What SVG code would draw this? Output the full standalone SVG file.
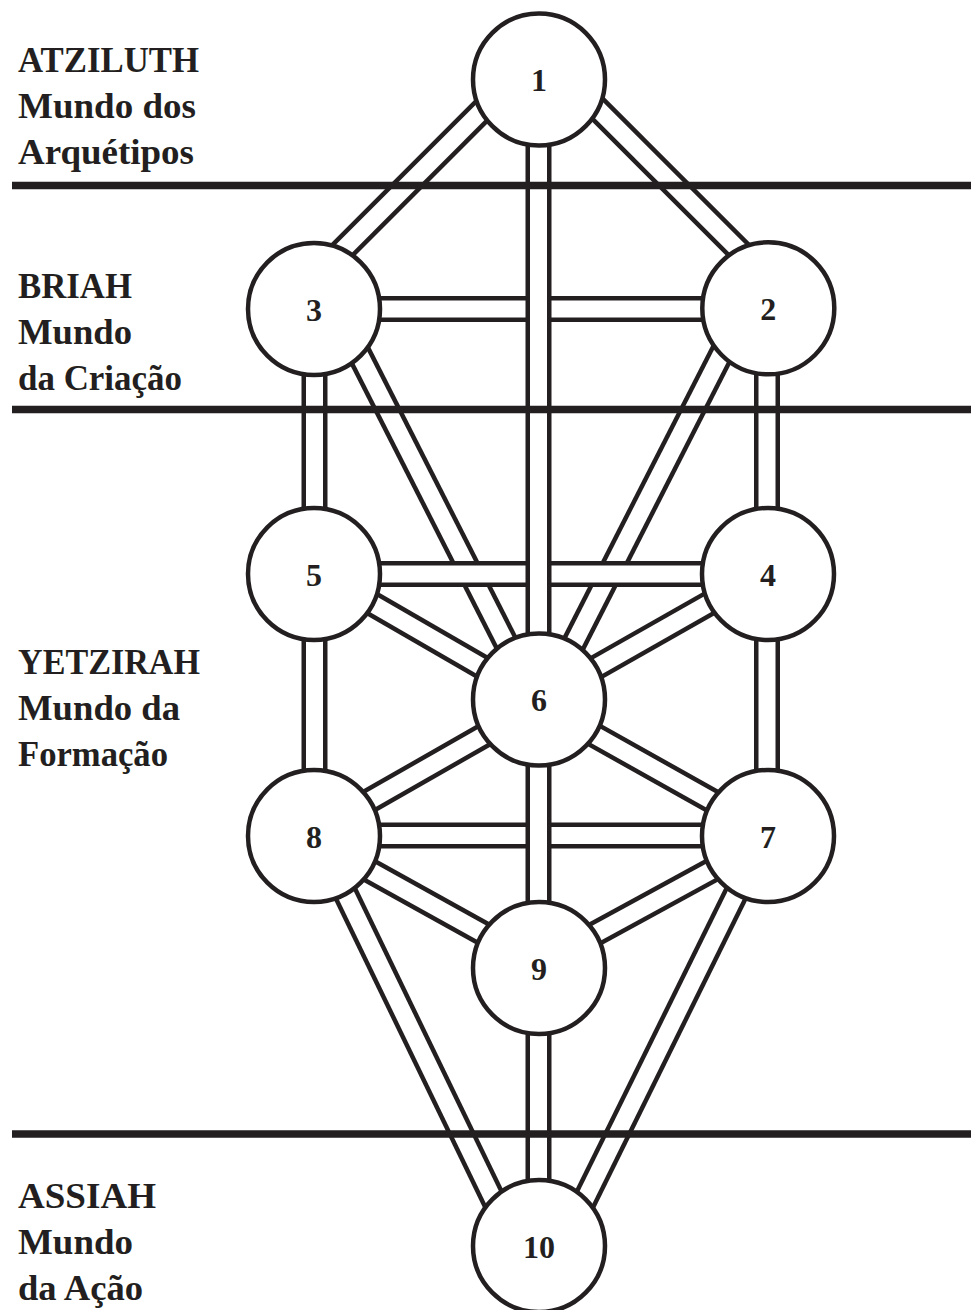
<svg xmlns="http://www.w3.org/2000/svg" width="971" height="1310" viewBox="0 0 971 1310">
<style>
.o{stroke:#231f20;stroke-width:26;fill:none}
.i{stroke:#ffffff;stroke-width:17;fill:none}
.n{fill:#ffffff;stroke:#231f20;stroke-width:4.5}
.t{font-family:"Liberation Serif","Times New Roman",serif;font-weight:bold;font-size:32px;fill:#231f20;text-anchor:middle}
.w{font-family:"Liberation Serif","Times New Roman",serif;font-weight:bold;font-size:35px;fill:#231f20}
.b{stroke:#231f20;stroke-width:7.5}
</style>
<rect width="971" height="1310" fill="#ffffff"/>
<g id="connectors">
  <g id="diagonals">
    <line class="o" x1="513.1" y1="79.5" x2="283.6" y2="309"/><line class="i" x1="513.1" y1="79.5" x2="283.6" y2="309"/>
    <line class="o" x1="568.3" y1="79.5" x2="797.1" y2="308.3"/><line class="i" x1="568.3" y1="79.5" x2="797.1" y2="308.3"/>
    <line class="o" x1="336.3" y1="309" x2="535" y2="700"/><line class="i" x1="336.3" y1="309" x2="535" y2="700"/>
    <line class="o" x1="744.7" y1="308.3" x2="545" y2="700"/><line class="i" x1="744.7" y1="308.3" x2="545" y2="700"/>
    <line class="o" x1="314" y1="570" x2="539" y2="700"/><line class="i" x1="314" y1="570" x2="539" y2="700"/>
    <line class="o" x1="768" y1="570" x2="539" y2="700"/><line class="i" x1="768" y1="570" x2="539" y2="700"/>
    <line class="o" x1="539" y1="704" x2="314" y2="832.4"/><line class="i" x1="539" y1="704" x2="314" y2="832.4"/>
    <line class="o" x1="539" y1="704" x2="768" y2="832.4"/><line class="i" x1="539" y1="704" x2="768" y2="832.4"/>
    <line class="o" x1="314" y1="839.6" x2="539" y2="964.5"/><line class="i" x1="314" y1="839.6" x2="539" y2="964.5"/>
    <line class="o" x1="768" y1="839.6" x2="539" y2="964.5"/><line class="i" x1="768" y1="839.6" x2="539" y2="964.5"/>
    <line class="o" x1="317.6" y1="836" x2="516" y2="1246"/><line class="i" x1="317.6" y1="836" x2="516" y2="1246"/>
    <line class="o" x1="764.4" y1="836" x2="562" y2="1246"/><line class="i" x1="764.4" y1="836" x2="562" y2="1246"/>
  </g>
  <g id="horizontals">
    <line class="o" x1="314" y1="309" x2="768" y2="309"/><line class="i" x1="314" y1="309" x2="768" y2="309"/>
    <line class="o" x1="314" y1="574" x2="768" y2="574"/><line class="i" x1="314" y1="574" x2="768" y2="574"/>
    <line class="o" x1="314" y1="835.5" x2="768" y2="835.5"/><line class="i" x1="314" y1="835.5" x2="768" y2="835.5"/>
  </g>
  <g id="verticals">
    <line class="o" x1="538.5" y1="79.5" x2="538.5" y2="700"/><line class="i" x1="538.5" y1="79.5" x2="538.5" y2="700"/>
    <line class="o" x1="538.5" y1="700" x2="538.5" y2="968"/><line class="i" x1="538.5" y1="700" x2="538.5" y2="968"/>
    <line class="o" x1="538.5" y1="968" x2="538.5" y2="1246"/><line class="i" x1="538.5" y1="968" x2="538.5" y2="1246"/>
    <line class="o" x1="314.5" y1="309" x2="314.5" y2="574"/><line class="i" x1="314.5" y1="309" x2="314.5" y2="574"/>
    <line class="o" x1="314.5" y1="574" x2="314.5" y2="836"/><line class="i" x1="314.5" y1="574" x2="314.5" y2="836"/>
    <line class="o" x1="767" y1="308" x2="767" y2="574"/><line class="i" x1="767" y1="308" x2="767" y2="574"/>
    <line class="o" x1="767" y1="574" x2="767" y2="836"/><line class="i" x1="767" y1="574" x2="767" y2="836"/>
  </g>
</g>
<g id="node1"><circle class="n" cx="539" cy="79.5" r="66"/><text class="t" x="539" y="91">1</text></g>
<g id="node2"><circle class="n" cx="768.3" cy="308.3" r="66"/><text class="t" x="768.3" y="320">2</text></g>
<g id="node3"><circle class="n" cx="314" cy="309" r="66"/><text class="t" x="314" y="320.5">3</text></g>
<g id="node4"><circle class="n" cx="768" cy="574" r="66"/><text class="t" x="768" y="585.5">4</text></g>
<g id="node5"><circle class="n" cx="314" cy="574" r="66"/><text class="t" x="314" y="585.5">5</text></g>
<g id="node6"><circle class="n" cx="539" cy="699.5" r="66"/><text class="t" x="539" y="711">6</text></g>
<g id="node7"><circle class="n" cx="768" cy="836" r="66"/><text class="t" x="768" y="847.5">7</text></g>
<g id="node8"><circle class="n" cx="314" cy="836" r="66"/><text class="t" x="314" y="847.5">8</text></g>
<g id="node9"><circle class="n" cx="539" cy="968" r="66"/><text class="t" x="539" y="979.5">9</text></g>
<g id="node10"><circle class="n" cx="539" cy="1246" r="66"/><text class="t" x="539" y="1257.5">10</text></g>
<g id="world-lines">
  <line class="b" x1="12" y1="185.5" x2="971" y2="185.5"/>
  <line class="b" x1="12" y1="409.5" x2="971" y2="409.5"/>
  <line class="b" x1="12" y1="1134" x2="971" y2="1134"/>
</g>
<g id="labels">
  <text class="w" x="18" y="72" textLength="181" lengthAdjust="spacingAndGlyphs">ATZILUTH</text>
  <text class="w" x="18" y="118" textLength="178" lengthAdjust="spacingAndGlyphs">Mundo dos</text>
  <text class="w" x="18" y="164" textLength="176" lengthAdjust="spacingAndGlyphs">Arquétipos</text>
  <text class="w" x="18" y="298" textLength="114" lengthAdjust="spacingAndGlyphs">BRIAH</text>
  <text class="w" x="18" y="344" textLength="114" lengthAdjust="spacingAndGlyphs">Mundo</text>
  <text class="w" x="18" y="390" textLength="164" lengthAdjust="spacingAndGlyphs">da Criação</text>
  <text class="w" x="18" y="674" textLength="182" lengthAdjust="spacingAndGlyphs">YETZIRAH</text>
  <text class="w" x="18" y="720" textLength="162" lengthAdjust="spacingAndGlyphs">Mundo da</text>
  <text class="w" x="18" y="766" textLength="150" lengthAdjust="spacingAndGlyphs">Formação</text>
  <text class="w" x="18" y="1208" textLength="138" lengthAdjust="spacingAndGlyphs">ASSIAH</text>
  <text class="w" x="18" y="1254" textLength="115" lengthAdjust="spacingAndGlyphs">Mundo</text>
  <text class="w" x="18" y="1300" textLength="125" lengthAdjust="spacingAndGlyphs">da Ação</text>
</g>
</svg>
